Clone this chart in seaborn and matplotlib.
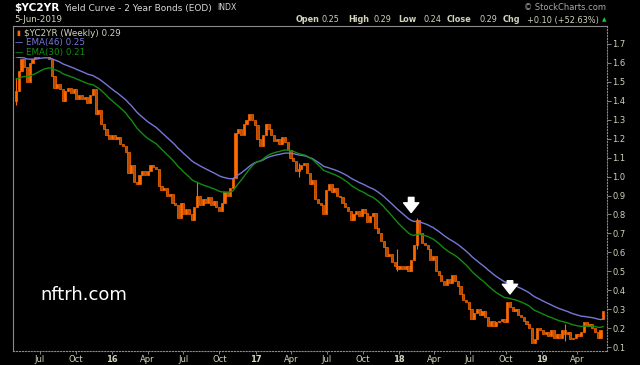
import matplotlib
matplotlib.use("Agg")
import matplotlib.pyplot as plt
import matplotlib.dates as mdates
from matplotlib.patches import Rectangle
import pandas as pd
import numpy as np
import seaborn as sns

# weekly closes of $YC2YR (Apr 2015 -> Jun 2019)
closes = [
    1.45, 1.56, 1.62, 1.58, 1.50, 1.60, 1.62, 1.63, 1.66, 1.68,
    1.67, 1.64, 1.62, 1.53, 1.47, 1.49, 1.46, 1.40, 1.45, 1.47,
    1.44, 1.46, 1.41, 1.43, 1.41, 1.42, 1.39, 1.43, 1.46, 1.33,
    1.35, 1.28, 1.25, 1.22, 1.20, 1.22, 1.20, 1.21, 1.17, 1.16,
    1.13, 1.02, 1.06, 0.97, 0.96, 1.01, 1.03, 1.01, 1.03, 1.06,
    1.05, 1.04, 0.95, 0.93, 0.94, 0.90, 0.91, 0.86, 0.85, 0.78,
    0.86, 0.80, 0.83, 0.80, 0.77, 0.84, 0.90, 0.85, 0.88, 0.86,
    0.89, 0.85, 0.87, 0.84, 0.82, 0.86, 0.92, 0.90, 0.94, 0.99,
    1.23, 1.25, 1.22, 1.28, 1.30, 1.33, 1.30, 1.27, 1.20, 1.16,
    1.22, 1.28, 1.25, 1.22, 1.19, 1.20, 1.17, 1.21, 1.18, 1.14,
    1.10, 1.08, 1.03, 1.04, 1.06, 1.07, 1.02, 0.96, 0.98, 0.88,
    0.86, 0.85, 0.80, 0.93, 0.96, 0.92, 0.94, 0.90, 0.89, 0.86,
    0.84, 0.82, 0.77, 0.80, 0.82, 0.79, 0.83, 0.81, 0.76, 0.79,
    0.81, 0.73, 0.70, 0.66, 0.63, 0.58, 0.59, 0.55, 0.53, 0.51,
    0.53, 0.51, 0.53, 0.50, 0.56, 0.64, 0.77, 0.70, 0.65, 0.64,
    0.62, 0.56, 0.58, 0.50, 0.48, 0.45, 0.43, 0.46, 0.44, 0.48,
    0.45, 0.42, 0.38, 0.35, 0.34, 0.30, 0.25, 0.28, 0.30, 0.27,
    0.29, 0.26, 0.21, 0.24, 0.21, 0.23, 0.24, 0.25, 0.23, 0.34,
    0.31, 0.29, 0.30, 0.27, 0.26, 0.24, 0.22, 0.20, 0.12, 0.14,
    0.20, 0.19, 0.17, 0.18, 0.16, 0.19, 0.15, 0.17, 0.15, 0.19,
    0.17, 0.18, 0.14, 0.15, 0.17, 0.16, 0.18, 0.23, 0.21, 0.22,
    0.20, 0.18, 0.15, 0.19, 0.29,
]
first_open = 1.40
last_open = 0.25
# a few visible wicks: (week index, low, high)
wick_week = [0, 66, 103, 139, 146, 200]
wick_low = [1.38, 0.84, 1.00, 0.50, 0.62, 0.13]
wick_high = [1.52, 0.97, 1.07, 0.62, 0.78, 0.22]

ema_slow_seed = 1.64   # EMA(46) level at the left edge
ema_fast_seed = 1.52   # EMA(30) level at the left edge

y_ticks = [0.1, 0.2, 0.3, 0.4, 0.5, 0.6, 0.7, 0.8, 0.9, 1.0,
           1.1, 1.2, 1.3, 1.4, 1.5, 1.6, 1.7]
arrow_dates = ["2018-02-02", "2018-10-12"]
arrow_tip = [0.81, 0.38]
arrow_top = [0.89, 0.45]

dates = pd.date_range(end="2019-06-07", periods=len(closes), freq="W-FRI")
df = pd.DataFrame({"date": dates, "close": closes})
df["open"] = [first_open] + closes[:-1]
df.loc[df.index[-1], "open"] = last_open


def ema(values, span, seed):
    a = 2.0 / (span + 1)
    out, prev = [], seed
    for v in values:
        prev = a * v + (1 - a) * prev
        out.append(prev)
    return out


df["ema46"] = ema(closes, 46, ema_slow_seed)
df["ema30"] = ema(closes, 30, ema_fast_seed)

W, H = 640, 365
bg = "black"
txt = "#d2d2bc"
orange = "#ff6a00"
dark_orange = "#b84a00"
blue = "#7777d8"
green = "#118c11"

sns.set_style("dark", {"axes.facecolor": bg, "figure.facecolor": bg})
plt.rcParams["font.family"] = ["DejaVu Sans"]

AX_L, AX_R, AX_T, AX_B = 13, 607, 26, 351
fig = plt.figure(figsize=(W / 100, H / 100), dpi=100)
ax = fig.add_axes([AX_L / W, 1 - AX_B / H, (AX_R - AX_L) / W, (AX_B - AX_T) / H])
ax.set_facecolor(bg)

# candles
num = mdates.date2num(df["date"])
body_w = 5.5
for k in range(len(df)):
    o, c = df["open"].iat[k], df["close"].iat[k]
    col = orange if c >= o else dark_orange
    lo, hi = min(o, c), max(o, c)
    ax.bar(num[k], max(hi - lo, 0.006), bottom=lo, width=body_w,
           color=col, edgecolor=orange, linewidth=0.5, zorder=3)
for k, lo, hi in zip(wick_week, wick_low, wick_high):
    ax.vlines(num[k], lo, hi, color=orange, linewidth=0.8, zorder=3)

sns.lineplot(data=df, x="date", y="ema46", color=blue, linewidth=1.0, ax=ax, zorder=4)
sns.lineplot(data=df, x="date", y="ema30", color=green, linewidth=1.0, ax=ax, zorder=4)

for d, tip, top in zip(arrow_dates, arrow_tip, arrow_top):
    ax.annotate("", xy=(mdates.datestr2num(d), tip), xytext=(mdates.datestr2num(d), top),
                arrowprops=dict(facecolor="white", edgecolor="white", width=4,
                                headwidth=11, headlength=7), zorder=6)

ax.set_ylim(0.079, 1.795)
ax.set_xlim(num[0] - 7.7, num[-1] + 9.5)
ax.set_xlabel("")
ax.set_ylabel("")
ax.grid(False)

# y axis on the right
ax.yaxis.tick_right()
ax.set_yticks(y_ticks)
ax.set_yticklabels([f"{v:.1f}" for v in y_ticks])
ax.tick_params(axis="y", colors="#9a9a9a", labelcolor=txt, labelsize=6,
               length=3, width=0.6, pad=1, right=True, left=False)

# x axis: quarter months, years as two digits
months = pd.date_range("2015-07-01", "2019-04-01", freq="QS-JAN")
xt = mdates.date2num(months)
xl = [m.strftime("%y") if m.month == 1 else m.strftime("%b") for m in months]
ax.set_xticks(xt)
ax.set_xticklabels(xl)
for lab, m in zip(ax.get_xticklabels(), months):
    if m.month == 1:
        lab.set_fontweight("bold")
ax.tick_params(axis="x", colors="#9a9a9a", labelcolor=txt, labelsize=6,
               length=2, width=0.6, pad=1, bottom=True)

for side in ["left", "top", "right", "bottom"]:
    ax.spines[side].set_visible(True)
    ax.spines[side].set_color("#8a8a8a")
    ax.spines[side].set_linewidth(0.8)
    ax.spines[side].set_zorder(8)
ax.spines["right"].set_linestyle(":")
ax.spines["bottom"].set_linestyle(":")

# in-plot legend block (covers top-left corner of the price area)
ax_h = AX_B - AX_T
leg_box = Rectangle((0, 1 - 31 / ax_h), 112 / (AX_R - AX_L), 31 / ax_h,
                    transform=ax.transAxes, facecolor=bg, edgecolor="none", zorder=5)
ax.add_patch(leg_box)


def px(x, y):
    return x / W, 1 - y / H


fig.text(*px(16, 33), "\u25AE", color=orange, fontsize=5, va="center", zorder=7)
fig.text(*px(24, 33), "$YC2YR (Weekly) 0.29", color=txt, fontsize=6.3, va="center")
fig.text(*px(15, 43), "\u2014", color=blue, fontsize=6, va="center")
fig.text(*px(26, 43), "EMA(46) 0.25", color=blue, fontsize=6.3, va="center")
fig.text(*px(15, 53), "\u2014", color=green, fontsize=6, va="center")
fig.text(*px(26, 53), "EMA(30) 0.21", color=green, fontsize=6.3, va="center")

# header
fig.text(*px(14, 8), "$YC2YR", color="white", fontsize=7.6, fontweight="bold", va="center")
fig.text(*px(64, 8), "Yield Curve - 2 Year Bonds (EOD)", color="#d8d8d8", fontsize=6.5, va="center")
fig.text(*px(217, 8), "INDX", color="#d8d8d8", fontsize=5.6, va="center")
fig.text(*px(14, 20), "5-Jun-2019", color=txt, fontsize=6.3, va="center")
fig.text(*px(606, 8), "\u00a9 StockCharts.com", color="#a8a8a8", fontsize=6, va="center", ha="right")

header_items = [("Open", True, 296), ("0.25", False, 321), ("High", True, 348),
                ("0.29", False, 373), ("Low", True, 398), ("0.24", False, 423),
                ("Close", True, 447), ("0.29", False, 480), ("Chg", True, 503),
                ("+0.10 (+52.63%)", False, 527)]
for s, bold, x in header_items:
    fig.text(*px(x, 20), s, color=txt, fontsize=5.9,
             fontweight="bold" if bold else "normal", va="center")
fig.text(*px(602, 20), "\u25B2", color="#22cc22", fontsize=4.2, va="center")

fig.text(*px(40, 295), "nftrh.com", color="white", fontsize=13, va="center")

fig.savefig("out.png", dpi=100, facecolor=bg)
